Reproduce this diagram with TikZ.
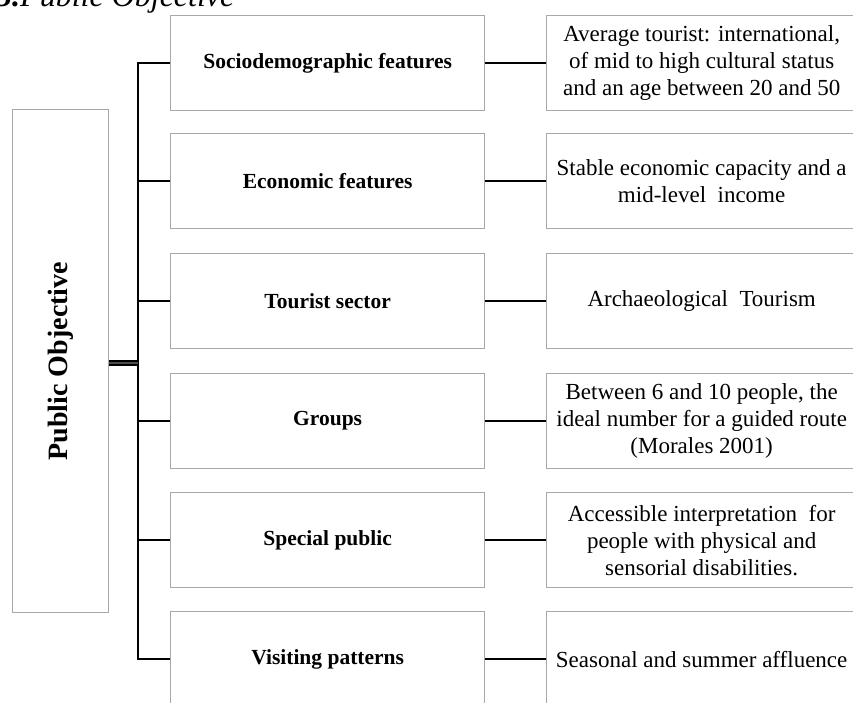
\documentclass[tikz,border=0pt]{standalone}
\usepackage{fontspec}
\setmainfont{Liberation Serif}
\begin{document}
\begin{tikzpicture}[x=1pt,y=-1pt,
  gbox/.style={draw=boxgray,line width=1.3pt,minimum width=314pt,minimum height=95pt,inner sep=0pt,anchor=north west,fill=white},
  rbox/.style={draw=boxgray,line width=1.3pt,minimum width=310pt,minimum height=95pt,inner sep=0pt,anchor=north west,fill=white,align=center,font=\fontsize{23}{27}\selectfont},
  midlab/.style={font=\fontsize{21.5}{26}\selectfont\bfseries},
  conn/.style={draw=black,line width=1.8pt},
  bus/.style={draw=black,line width=2.3pt,line join=miter}]
\definecolor{boxgray}{HTML}{A8A8A8}
\useasboundingbox (0,0) rectangle (853,702);
\clip (0,0) rectangle (853,702);
\fill[white] (0,0) rectangle (853,702);

% title (cut at top)
\node[anchor=base west,inner sep=0pt,font=\fontsize{32}{38}\selectfont\itshape] (title) at (-4,6) {\textbf{3.}Public Objective};

% left box
\node[draw=boxgray,line width=1.3pt,minimum width=96pt,minimum height=503pt,inner sep=0pt,anchor=north west] (L) at (12,109) {};
\node[rotate=90,font=\fontsize{28}{32}\selectfont\bfseries] (Ltext) at (L.center) {Public Objective};

% middle boxes
\node[gbox] (m1) at (170,15) {};
\node[midlab] (t1) at (m1.center) {Sociodemographic features};
\node[gbox] (m2) at (170,133) {};
\node[midlab] (t2) at (m2.center) {Economic features};
\node[gbox] (m3) at (170,253) {};
\node[midlab] (t3) at (m3.center) {Tourist sector};
\node[gbox] (m4) at (170,373) {};
\node[midlab] (t4) at (m4.center) {Groups};
\node[gbox] (m5) at (170,492) {};
\node[midlab] (t5) at (m5.center) {Special public};
\node[gbox] (m6) at (170,611) {};
\node[midlab] (t6) at (m6.center) {Visiting patterns};

% right boxes
\node[rbox] (r1) at (546,15) {Average tourist: international,\\ of mid to high cultural status\\ and an age between 20 and 50};
\node[rbox] (r2) at (546,133) {Stable economic capacity and a\\ mid-level\ \ income};
\node[rbox] (r3) at (546,253) {Archaeological\ \ Tourism};
\node[rbox] (r4) at (546,373) {Between 6 and 10 people, the\\ ideal number for a guided route\\ (Morales 2001)};
\node[rbox] (r5) at (546,492) {Accessible interpretation\ \ for\\ people with physical and\\ sensorial disabilities.};
\node[rbox] (r6) at (546,611) {Seasonal and summer affluence};

% bus
\coordinate (bx) at (138,0);
\draw[bus] (m1.west) -- (m1.west -| bx) -- (m6.west -| bx) -- (m6.west);
\foreach \i in {2,3,4,5} {\draw[conn] (m\i.west -| bx) -- (m\i.west);}
\draw[draw=black,line width=2.4pt,double={black!70},double distance=1.4pt] ([yshift=-2pt]L.east) -- ([yshift=-2pt]L.east -| bx);

% middle to right connectors
\foreach \i in {1,...,6} {\draw[conn] (m\i.east) -- (r\i.west);}
\end{tikzpicture}
\end{document}
